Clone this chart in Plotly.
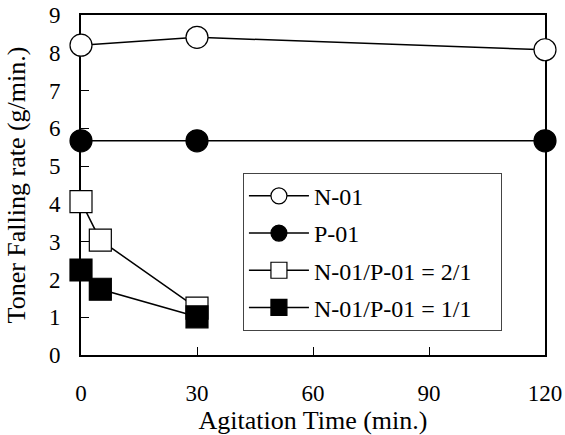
import plotly.graph_objects as go

time_n01 = [0, 30, 120]
rate_n01 = [8.2, 8.41, 8.08]
time_p01 = [0, 30, 120]
rate_p01 = [5.67, 5.67, 5.67]
time_21 = [0, 5, 30]
rate_21 = [4.06, 3.04, 1.24]
time_11 = [0, 5, 30]
rate_11 = [2.25, 1.74, 1.01]

x_ticks = [0, 30, 60, 90, 120]
y_ticks = list(range(0, 10))

FONT = "Liberation Serif"
PAD = "\u00a0" * 4

fig = go.Figure()

def add(x, y, name, symbol, fill, grp):
    fig.add_trace(go.Scatter(
        x=x, y=y, name=name + PAD, mode="lines+markers",
        line=dict(color="black", width=1.5),
        marker=dict(symbol=symbol, size=22, color=fill,
                    line=dict(color="black", width=1.2)),
        cliponaxis=False, legendgroup=grp,
    ))

add(time_n01, rate_n01, "N-01", "circle", "white", "a")
add(time_p01, rate_p01, "P-01", "circle", "black", "b")
add(time_21, rate_21, "N-01/P-01 = 2/1", "square", "white", "c")
add(time_11, rate_11, "N-01/P-01 = 1/1", "square", "black", "d")

fig.update_layout(
    width=565, height=435,
    margin=dict(l=81, r=20, t=15, b=80),
    paper_bgcolor="white", plot_bgcolor="white",
    font=dict(family=FONT, size=23, color="black"),
    showlegend=True,
    legend=dict(
        x=0.349, y=0.536, xanchor="left", yanchor="top",
        bgcolor="white", bordercolor="#444", borderwidth=1,
        font=dict(family=FONT, size=24, color="black"),
        itemsizing="trace", tracegroupgap=3, itemwidth=60,
        traceorder="grouped",
    ),
)

fig.update_xaxes(
    range=[0, 120], tickvals=x_ticks, ticks="inside", ticklen=8,
    tickwidth=1, tickcolor="black", automargin=False,
    showline=True, linecolor="black", linewidth=2, mirror=True,
    showgrid=False, zeroline=False, layer="below traces",
    ticklabelstandoff=16,
    tickfont=dict(family=FONT, size=23, color="black"),
    title=dict(text="Agitation Time (min.)", standoff=3,
               font=dict(family=FONT, size=26, color="black")),
)
fig.update_yaxes(
    range=[0, 9], tickvals=y_ticks, ticks="inside", ticklen=8,
    tickwidth=1, tickcolor="black", automargin=False,
    showline=True, linecolor="black", linewidth=2, mirror=True,
    showgrid=False, zeroline=False, layer="below traces",
    ticklabelstandoff=14,
    tickfont=dict(family=FONT, size=23, color="black"),
    title=dict(text="Toner Falling rate (g/min.)", standoff=16,
               font=dict(family=FONT, size=26, color="black")),
)

fig.write_html("out.html", config={"displayModeBar": False},
               post_script="document.body.style.margin='0';document.body.style.padding='0';")
